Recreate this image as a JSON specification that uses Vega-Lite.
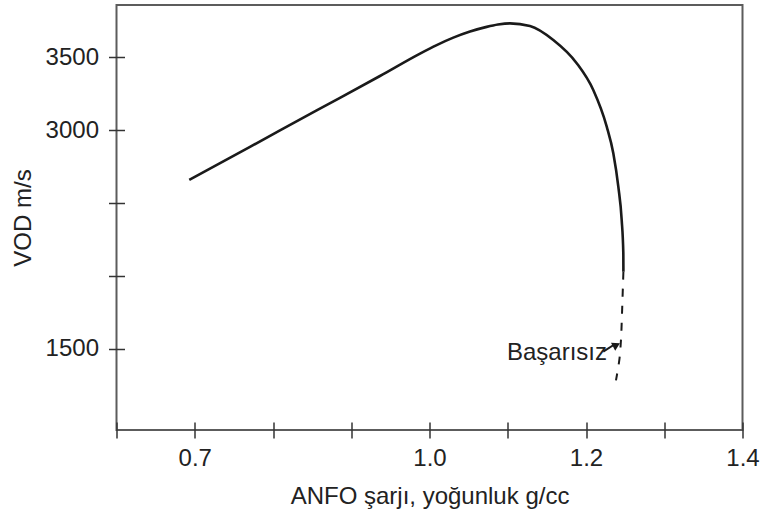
{
  "$schema": "https://vega.github.io/schema/vega-lite/v6.json",
  "width": 626,
  "height": 425,
  "autosize": {"type": "none"},
  "padding": {"left": 116.5, "top": 5, "right": 20, "bottom": 83},
  "background": "white",
  "config": {
    "view": {"stroke": "#5c5c5c", "strokeWidth": 2},
    "font": "Liberation Sans",
    "axis": {
      "domain": false,
      "grid": false,
      "offset": -8,
      "tickSize": 16,
      "tickColor": "#333333",
      "tickWidth": 1.5,
      "labelFont": "Liberation Sans",
      "labelFontSize": 24,
      "labelColor": "#222222",
      "titleFont": "Liberation Sans",
      "titleFontSize": 24,
      "titleFontWeight": "normal",
      "titleColor": "#222222"
    }
  },
  "data": {
    "values": [
      {"kind": "solid", "i": 1, "x": 0.6930, "y": 2659},
      {"kind": "solid", "i": 2, "x": 0.7706, "y": 2886},
      {"kind": "solid", "i": 3, "x": 0.8558, "y": 3136},
      {"kind": "solid", "i": 4, "x": 0.9367, "y": 3372},
      {"kind": "solid", "i": 5, "x": 0.9879, "y": 3526},
      {"kind": "solid", "i": 6, "x": 1.0092, "y": 3584},
      {"kind": "solid", "i": 7, "x": 1.0304, "y": 3635},
      {"kind": "solid", "i": 8, "x": 1.0518, "y": 3677},
      {"kind": "solid", "i": 9, "x": 1.0731, "y": 3709},
      {"kind": "solid", "i": 10, "x": 1.0875, "y": 3725},
      {"kind": "solid", "i": 11, "x": 1.1029, "y": 3733},
      {"kind": "solid", "i": 12, "x": 1.1284, "y": 3715},
      {"kind": "solid", "i": 13, "x": 1.1582, "y": 3619},
      {"kind": "solid", "i": 14, "x": 1.1881, "y": 3460},
      {"kind": "solid", "i": 15, "x": 1.2093, "y": 3276},
      {"kind": "solid", "i": 16, "x": 1.2265, "y": 3025},
      {"kind": "solid", "i": 17, "x": 1.2349, "y": 2842},
      {"kind": "solid", "i": 18, "x": 1.2413, "y": 2613},
      {"kind": "solid", "i": 19, "x": 1.2456, "y": 2385},
      {"kind": "solid", "i": 20, "x": 1.2477, "y": 2156},
      {"kind": "solid", "i": 21, "x": 1.2478, "y": 2030},
      {"kind": "dashed", "i": 1, "x": 1.2478, "y": 2030},
      {"kind": "dashed", "i": 2, "x": 1.2466, "y": 1836},
      {"kind": "dashed", "i": 3, "x": 1.2456, "y": 1676},
      {"kind": "dashed", "i": 4, "x": 1.2447, "y": 1562},
      {"kind": "dashed", "i": 5, "x": 1.2426, "y": 1425},
      {"kind": "dashed", "i": 6, "x": 1.2383, "y": 1284},
      {"kind": "label", "x": 1.0990, "y": 1425, "label": "Başarısız"},
      {"kind": "arrow", "x": 1.2221, "y": 1481, "x2": 1.2372, "y2": 1534},
      {"kind": "head", "x": 1.2390, "y": 1527}
    ]
  },
  "encoding": {
    "x": {
      "field": "x",
      "type": "quantitative",
      "scale": {"domain": [0.6, 1.4], "nice": false, "zero": false},
      "axis": {
        "title": "ANFO şarjı, yoğunluk g/cc",
        "values": [0.6, 0.7, 0.8, 0.9, 1.0, 1.1, 1.2, 1.3, 1.4],
        "labelExpr": "(abs(datum.value-0.7)<0.001 || abs(datum.value-1)<0.001 || abs(datum.value-1.2)<0.001 || abs(datum.value-1.4)<0.001) ? format(datum.value, '.1f') : ''",
        "labelPadding": 8,
        "titlePadding": 14,
        "labelFlush": false,
        "labelOverlap": false
      }
    },
    "y": {
      "field": "y",
      "type": "quantitative",
      "scale": {"domain": [944, 3859], "nice": false, "zero": false},
      "axis": {
        "title": "VOD m/s",
        "values": [1500, 2000, 2500, 3000, 3500],
        "labelExpr": "(datum.value == 1500 || datum.value == 3000 || datum.value == 3500) ? format(datum.value, 'd') : ''",
        "labelPadding": 10,
        "titlePadding": 10,
        "labelOverlap": false
      }
    }
  },
  "layer": [
    {
      "transform": [{"filter": "datum.kind == 'solid'"}],
      "mark": {"type": "line", "color": "#1a1a1a", "strokeWidth": 2.6, "interpolate": "monotone"},
      "encoding": {"order": {"field": "i", "type": "quantitative"}}
    },
    {
      "transform": [{"filter": "datum.kind == 'dashed'"}],
      "mark": {"type": "line", "color": "#1a1a1a", "strokeWidth": 2, "strokeDash": [8, 9], "interpolate": "cardinal"},
      "encoding": {"order": {"field": "i", "type": "quantitative"}}
    },
    {
      "transform": [{"filter": "datum.kind == 'label'"}],
      "mark": {"type": "text", "align": "left", "baseline": "alphabetic", "fontSize": 24, "font": "Liberation Sans", "color": "#222222"},
      "encoding": {"text": {"field": "label"}}
    },
    {
      "transform": [{"filter": "datum.kind == 'arrow'"}],
      "mark": {"type": "rule", "color": "#1a1a1a", "strokeWidth": 2},
      "encoding": {"x2": {"field": "x2"}, "y2": {"field": "y2"}}
    },
    {
      "transform": [{"filter": "datum.kind == 'head'"}],
      "mark": {"type": "point", "shape": "triangle-right", "filled": true, "color": "#1a1a1a", "size": 80, "angle": 332, "opacity": 1}
    }
  ]
}
